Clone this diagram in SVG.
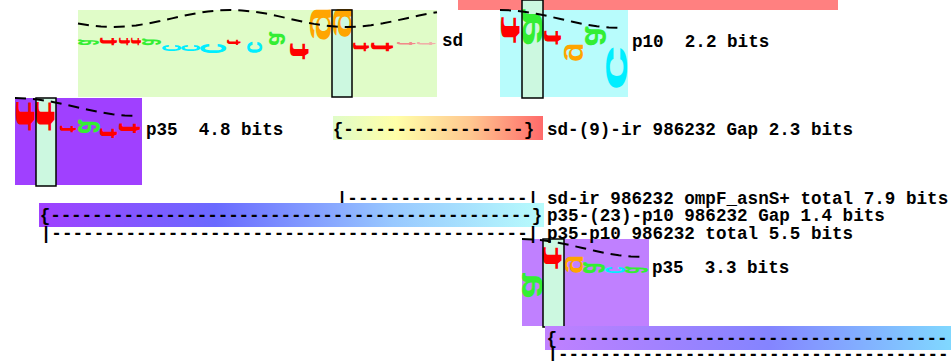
<svg xmlns="http://www.w3.org/2000/svg" width="951" height="361" viewBox="0 0 951 361" xml:space="preserve">
<style>
.lbl{font-family:"Liberation Mono","DejaVu Sans Mono",monospace;font-weight:bold;font-size:17.6px;fill:#000;white-space:pre}
.L{font-family:"Liberation Sans",Arial,sans-serif;font-weight:bold;font-size:100px}
.r{fill:#ff0000}.g{fill:#33ee33}.o{fill:#ffa500}.c{fill:#00eeff}
.box{fill:#ccf8e0}
.boxb{fill:none;stroke:#000;stroke-width:1.5}
.curve{fill:none;stroke:#000;stroke-width:2;stroke-dasharray:11 7}
</style>
<defs>
<linearGradient id="gGap" x1="0" x2="1" y1="0" y2="0">
<stop offset="0" stop-color="#e0fcc8"/><stop offset="0.3" stop-color="#ffffa8"/><stop offset="0.65" stop-color="#ffc890"/><stop offset="1" stop-color="#ff6a6a"/>
</linearGradient>
<linearGradient id="gP" x1="0" x2="1" y1="0" y2="0">
<stop offset="0" stop-color="#a040ff"/><stop offset="0.35" stop-color="#6a6aff"/><stop offset="0.7" stop-color="#98c8ff"/><stop offset="1" stop-color="#b8fcfc"/>
</linearGradient>
<linearGradient id="gB" x1="0" x2="1" y1="0" y2="0">
<stop offset="0" stop-color="#c080ff"/><stop offset="0.55" stop-color="#8484ff"/><stop offset="1" stop-color="#80d8ff"/>
</linearGradient>
</defs>

<g id="ir-bar"><rect x="458" y="0" width="380" height="10" fill="#ff8080"/></g>

<g id="sd">
<rect x="78" y="10" width="359" height="87" fill="#e0fcc8"/>
<rect class="box" x="332" y="10" width="20" height="87"/>
<text class="L g" transform="matrix(0,-0.1031,-0.3818,0,78.38,45.36)">a</text>
<text class="L r" transform="matrix(0,-0.2414,-0.2535,0,100.25,45.48)">t</text>
<text class="L r" transform="matrix(0,-0.2414,-0.1690,0,119.17,45.48)">t</text>
<text class="L r" transform="matrix(0,-0.2414,-0.1408,0,131.14,45.48)">t</text>
<text class="L g" transform="matrix(0,-0.1237,-0.3455,0,142.35,45.43)">a</text>
<text class="L c" transform="matrix(0,-0.1237,-0.3455,0,162.35,51.43)">c</text>
<text class="L c" transform="matrix(0,-0.1237,-0.3455,0,181.35,51.43)">c</text>
<text class="L c" transform="matrix(0,-0.1856,-0.4727,0,200.47,53.65)">c</text>
<text class="L r" transform="matrix(0,-0.1724,-0.2113,0,227.21,45.34)">t</text>
<text class="L c" transform="matrix(0,-0.2268,-0.2727,0,247.27,53.79)">c</text>
<text class="L g" transform="matrix(0,-0.2474,-0.2909,0,269.29,45.87)">a</text>
<text class="L r" transform="matrix(0,-0.5172,-0.2676,0,290.27,60.03)">t</text>
<text class="L o" transform="matrix(0,-0.5957,-0.28,0,315.88,42.08)">g</text>
<text class="L o" transform="matrix(0,-0.5532,-0.2667,0,337.6,38.94)">g</text>
<text class="L r" transform="matrix(0,-0.2759,-0.2394,0,353.24,51.55)">t</text>
<text class="L r" transform="matrix(0,-0.2759,-0.3380,0,371.34,51.55)">t</text>
<text class="L" fill="#f28a8a" transform="matrix(0,-0.1034,-0.2817,0,397.28,45.21)">t</text>
<text class="L" fill="#f0b0a8" transform="matrix(0,-0.1034,-0.2817,0,417.28,45.21)">t</text>
<path class="curve" d="M78,23.51 L90,25.43 L101,26.56 L113,27 L125,26.56 L136,25.43 L148,23.51 L160,21.09 L172,18.39 L184,15.7 L196,13.3 L208,11.45 L220,10.3 L230,10 L242,10.44 L254,11.68 L266,13.6 L278,16.13 L290,18.84 L302,21.51 L314,23.88 L326,25.7 L338,26.77 L347,27 L359,26.56 L371,25.3 L383,23.33 L395,20.86 L407,18.16 L419,15.49 L431,13.14 L437,12.14"/>
<rect class="boxb" x="332" y="10" width="20" height="87"/>
<text class="lbl" x="442" y="46">sd</text>
</g>

<g id="p10">
<rect x="500" y="10" width="128" height="87" fill="#b8fcfc"/>
<rect class="box" x="522" y="0" width="21" height="98"/>
<text class="L r" transform="matrix(0,-0.8276,-0.2817,0,501.28,43.66)">t</text>
<text class="L g" transform="matrix(0,-0.6598,-0.3818,0,522.38,46.31)">a</text>
<text class="L r" transform="matrix(0,-0.4483,-0.2535,0,544.25,44.9)">t</text>
<text class="L o" transform="matrix(0,-0.3191,-0.2667,0,568.6,62.12)">g</text>
<text class="L g" transform="matrix(0,-0.3505,-0.3818,0,585.38,46.23)">a</text>
<text class="L c" transform="matrix(0,-0.8247,-0.3818,0,606.38,90.89)">c</text>
<path class="curve" d="M500,10 L512.1,10.44 L524.2,11.72 L536.3,13.71 L548.4,16.22 L560.5,19 L572.6,21.78 L584.7,24.29 L596.8,26.28 L608.9,27.56 L621,28"/>
<rect class="boxb" x="522" y="0" width="21" height="98"/>
<text class="lbl" x="632" y="47">p10  2.2 bits</text>
</g>

<g id="p35a">
<rect x="15" y="98" width="127" height="87" fill="#a040ff"/>
<rect class="box" x="36" y="98" width="20" height="88"/>
<text class="L r" transform="matrix(0,-0.9310,-0.2676,0,16.27,131.86)">t</text>
<text class="L r" transform="matrix(0,-0.9310,-0.2817,0,36.28,131.86)">t</text>
<text class="L r" transform="matrix(0,-0.2069,-0.2394,0,60.24,132.41)">t</text>
<text class="L g" transform="matrix(0,-0.2474,-0.4,0,78.4,133.87)">a</text>
<text class="L r" transform="matrix(0,-0.3103,-0.2535,0,100.25,138.62)">t</text>
<text class="L r" transform="matrix(0,-0.3103,-0.3099,0,119.31,133.62)">t</text>
<path class="curve" d="M15,98 L27.2,98.44 L39.4,99.72 L51.6,101.71 L63.8,104.22 L76,107 L88.2,109.78 L100.4,112.29 L112.6,114.28 L124.8,115.56 L137,116"/>
<rect class="boxb" x="36" y="98" width="20" height="88"/>
<text class="lbl" x="146" y="135">p35  4.8 bits</text>
</g>

<g id="gap-sd-ir">
<rect x="333" y="116" width="210" height="24" fill="url(#gGap)"/>
<text class="lbl" x="332.7" y="134.5" textLength="201.6" lengthAdjust="spacing">{-----------------}</text>
<text class="lbl" x="547" y="135">sd-(9)-ir 986232 Gap 2.3 bits</text>
</g>

<g id="p35b">
<rect x="522" y="239" width="127" height="87" fill="#c080ff"/>
<rect class="box" x="543" y="239" width="21" height="88"/>
<text class="L g" transform="matrix(0,-0.4536,-0.3818,0,522.38,298.59)">a</text>
<text class="L r" transform="matrix(0,-0.6897,-0.2817,0,543.28,269.38)">t</text>
<text class="L o" transform="matrix(0,-0.3191,-0.24,0,570.04,274.12)">g</text>
<text class="L g" transform="matrix(0,-0.2062,-0.4,0,583.4,273.72)">a</text>
<text class="L c" transform="matrix(0,-0.1237,-0.3636,0,605.36,273.43)">c</text>
<text class="L g" transform="matrix(0,-0.1237,-0.4182,0,625.42,273.43)">a</text>
<path class="curve" d="M522,239 L534.1,239.44 L546.2,240.72 L558.3,242.71 L570.4,245.22 L582.5,248 L594.6,250.78 L606.7,253.29 L618.8,255.28 L630.9,256.56 L643,257"/>
<rect class="boxb" x="543" y="239" width="21" height="88"/>
<text class="lbl" x="652" y="273">p35  3.3 bits</text>
</g>

<g id="connectors">
<text class="lbl" x="336.7" y="203.5" textLength="201.6" lengthAdjust="spacing">|-----------------|</text>
<text class="lbl" x="547" y="203.5">sd-ir 986232 ompF_asnS+ total 7.9 bits</text>
<rect x="39" y="203" width="505" height="24" fill="url(#gP)"/>
<text class="lbl" x="39.7" y="221" textLength="502.6" lengthAdjust="spacing">{----------------------------------------------}</text>
<text class="lbl" x="547" y="221">p35-(23)-p10 986232 Gap 1.4 bits</text>
<text class="lbl" x="40.7" y="238.5" textLength="497.6" lengthAdjust="spacing">|---------------------------------------------|</text>
<text class="lbl" x="547" y="238.5">p35-p10 986232 total 5.5 bits</text>
<rect x="545" y="326" width="406" height="24" fill="url(#gB)"/>
<text class="lbl" x="546.4" y="343.5">{-------------------------------------</text>
<text class="lbl" x="547.4" y="360">|-------------------------------------</text>
</g>
</svg>
